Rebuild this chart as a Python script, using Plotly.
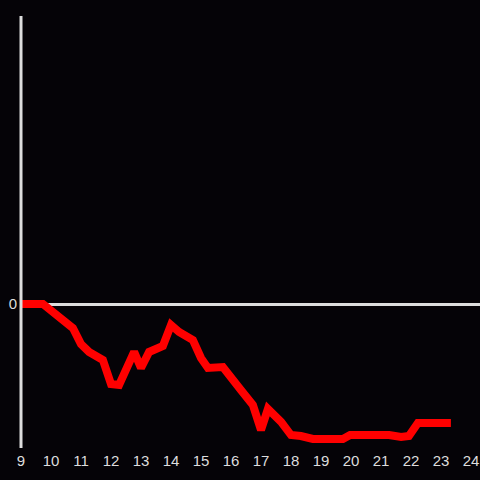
import plotly.graph_objects as go

x_vals = [9.0, 9.73, 10.73, 11.0, 11.27, 11.73, 12.0, 12.27, 12.77, 13.0, 13.27, 13.73, 14.0, 14.27,
          14.73, 15.0, 15.23, 15.73, 16.33, 16.73, 17.0, 17.23, 17.67, 18.0, 18.33, 18.73, 19.73,
          19.97, 21.27, 21.67, 21.93, 22.23, 23.33]
y_vals = [0.0, 0.0, -0.167, -0.278, -0.333, -0.389, -0.556, -0.5625, -0.333, -0.444, -0.333, -0.292,
          -0.146, -0.194, -0.25, -0.375, -0.444, -0.4375, -0.597, -0.701, -0.875, -0.729, -0.819,
          -0.91, -0.917, -0.9375, -0.9375, -0.91, -0.91, -0.924, -0.917, -0.826, -0.826]
x_ticks = list(range(9, 25))

BG = "#050307"
AXIS = "#dddddd"

fig = go.Figure(go.Scatter(x=x_vals, y=y_vals, mode="lines",
                           line=dict(color="#ff0000", width=8), hoverinfo="skip", cliponaxis=False))
fig.add_shape(type="line", xref="paper", yref="paper", x0=0, x1=0, y0=0, y1=1,
              line=dict(color=AXIS, width=3), layer="above")
fig.update_layout(
    width=480, height=480,
    margin=dict(l=21, r=0, t=16, b=32),
    paper_bgcolor=BG, plot_bgcolor=BG,
    showlegend=False,
    font=dict(family="Liberation Sans, Arial, sans-serif", size=15, color=AXIS),
)
fig.update_xaxes(range=[9, 24.3], tickvals=x_ticks, ticktext=[str(t) for t in x_ticks],
                 showgrid=False, zeroline=False, showline=False, ticks="", ticklen=0,
                 ticklabelstandoff=2)
fig.update_yaxes(range=[-1, 2], tickvals=[0], ticktext=["0"], showgrid=False,
                 zeroline=True, zerolinecolor=AXIS, zerolinewidth=3,
                 showline=False, ticks="", ticklabelstandoff=3)
fig.write_html("out.html", config={"displayModeBar": False},
               post_script="document.body.style.margin='0';document.body.style.background='%s';"
                           "document.documentElement.style.overflow='hidden';" % BG)
